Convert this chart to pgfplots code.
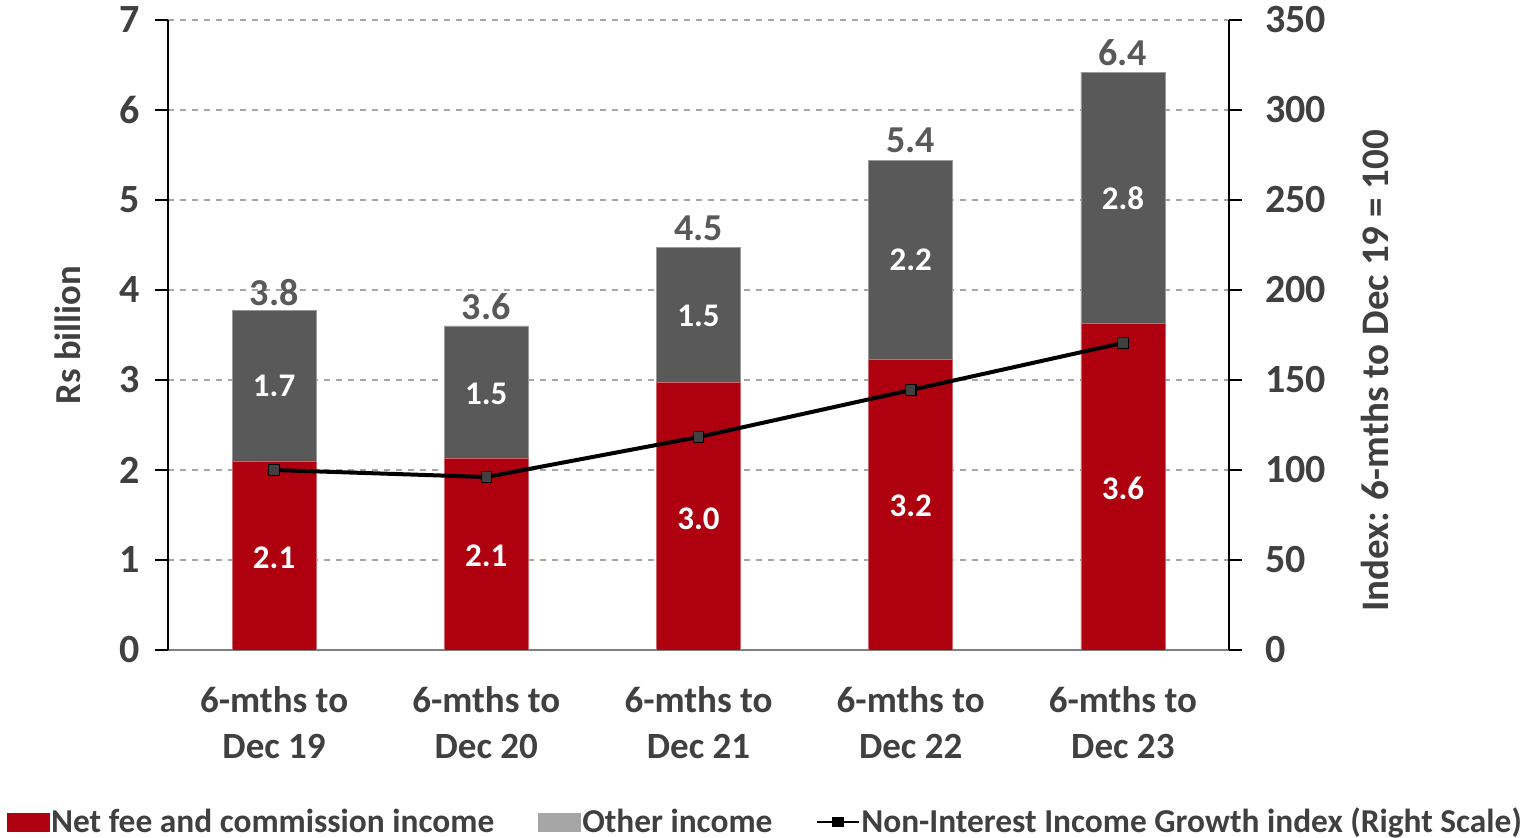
\documentclass[border=0pt]{standalone}
\usepackage{fontspec}
\setmainfont{Carlito}
\usepackage{pgfplots}
\pgfplotsset{compat=1.18}
\definecolor{redA}{HTML}{AE000E}
\definecolor{dgray}{HTML}{595959}
\definecolor{lgray}{HTML}{A6A6A6}
\definecolor{txt}{HTML}{404040}
\tikzset{inl/.style={font=\fontsize{16.5}{18}\selectfont\bfseries, text=white},
  tot/.style={font=\fontsize{19}{21}\selectfont\bfseries, text=dgray}}
\begin{document}
\begin{tikzpicture}[font=\bfseries]
\begin{axis}[name=main,
  at={(0,0)}, anchor=south west,
  scale only axis, width=530.5pt, height=315pt,
  xmin=-0.5, xmax=4.5, ymin=0, ymax=7,
  ybar stacked, bar width=42pt,
  axis x line*=bottom, axis y line*=left,
  x axis line style={draw=gray, line width=1pt, -},
  y axis line style={draw=black, line width=0.6pt, -},
  xtick={0,1,2,3,4},
  xticklabels={{6-mths to\\Dec 19},{6-mths to\\Dec 20},{6-mths to\\Dec 21},{6-mths to\\Dec 22},{6-mths to\\Dec 23}},
  extra x ticks={-0.5,0.5,1.5,2.5,3.5,4.5},
  extra x tick labels={},
  extra x tick style={major tick length=6pt, tick style={draw=black, line width=0.6pt}},
  x tick style={draw=none},
  tick align=outside,
  major tick length=6.5pt,
  y tick style={draw=black, line width=0.6pt},
  ytick={0,1,...,7},
  ymajorgrids, grid style={dashed, gray!70, line width=0.6pt},
  /pgf/number format/assume math mode=true,
  yticklabel style={font=\fontsize{20}{22}\selectfont\bfseries, text=txt, xshift=-4pt},
  xticklabel style={font=\fontsize{18.5}{23}\selectfont\bfseries, text=txt, align=center, yshift=-8pt},
  ylabel={Rs billion},
  ylabel style={at={(rel axis cs:-0.0943,0.5)}, anchor=center, font=\fontsize{18.3}{20}\selectfont\bfseries, text=txt},
]
\addplot[fill=redA, draw=redA!60!white, line width=0.4pt] coordinates {(0,2.10) (1,2.13) (2,2.97) (3,3.23) (4,3.63)};
\addplot[fill=dgray, draw=gray!80, line width=0.4pt] coordinates {(0,1.67) (1,1.47) (2,1.50) (3,2.21) (4,2.79)};
\node[tot] at (axis cs:0,3.97) {3.8};
\node[tot] at (axis cs:1,3.82) {3.6};
\node[tot] at (axis cs:2,4.69) {4.5};
\node[tot] at (axis cs:3,5.66) {5.4};
\node[tot] at (axis cs:4,6.64) {6.4};
\end{axis}
\begin{axis}[
  at={(0,0)}, anchor=south west,
  scale only axis, width=530.5pt, height=315pt,
  xmin=-0.5, xmax=4.5, ymin=0, ymax=350,
  axis x line=none, axis y line*=right,
  y axis line style={draw=black, line width=0.6pt, -},
  ytick={0,50,...,350},
  tick align=outside, major tick length=6.5pt,
  y tick style={draw=black, line width=0.6pt},
  /pgf/number format/assume math mode=true,
  yticklabel style={font=\fontsize{20}{22}\selectfont\bfseries, text=txt, xshift=8pt},
  ylabel={Index: 6-mths to Dec 19 = 100},
  ylabel style={at={(rel axis cs:1.1376,0.443)}, anchor=center, font=\fontsize{19.5}{21}\selectfont\bfseries, text=txt},
  legend columns=3,
  legend cell align=left,
  legend style={at={(rel axis cs:0.5627,-0.273)}, anchor=center, draw=none, fill=none,
    font=\fontsize{16.7}{18}\selectfont\bfseries, text=txt,
    nodes={inner xsep=0.8pt},
    /tikz/every even column/.append style={column sep=21pt},
    /tikz/every odd column/.append style={column sep=0pt}},
]
\addlegendimage{legend image code/.code={\fill[redA] (0pt,-4.5pt) rectangle (21pt,4.5pt);}}
\addlegendentry{Net fee and commission income}
\addlegendimage{legend image code/.code={\fill[lgray] (0pt,-4.5pt) rectangle (21pt,4.5pt);}}
\addlegendentry{Other income}
\addplot[black, line width=2pt, mark=square*, mark size=2.6pt,
  mark options={fill=txt, draw=black, line width=0.6pt},
  legend image code/.code={\draw[black, line width=0.8pt] (0pt,0pt) -- (21pt,0pt); \fill[black] (8.5pt,-1.5pt) rectangle (12.5pt,1.5pt);}]
  coordinates {(0,100) (1,96.1) (2,118.3) (3,144.4) (4,170.6)};
\addlegendentry{Non-Interest Income Growth index (Right Scale)}
\node[inl] at (axis cs:0,51.5) {2.1};
\node[inl] at (axis cs:1,52.5) {2.1};
\node[inl] at (axis cs:2,73) {3.0};
\node[inl] at (axis cs:3,80) {3.2};
\node[inl] at (axis cs:4,90) {3.6};
\node[inl] at (axis cs:0,146.5) {1.7};
\node[inl] at (axis cs:1,142.5) {1.5};
\node[inl] at (axis cs:2,185.5) {1.5};
\node[inl] at (axis cs:3,216.5) {2.2};
\node[inl] at (axis cs:4,251) {2.8};
\end{axis}
\pgfresetboundingbox
\path (-84pt,-94pt) rectangle (683.5pt,325pt);
\end{tikzpicture}
\end{document}
